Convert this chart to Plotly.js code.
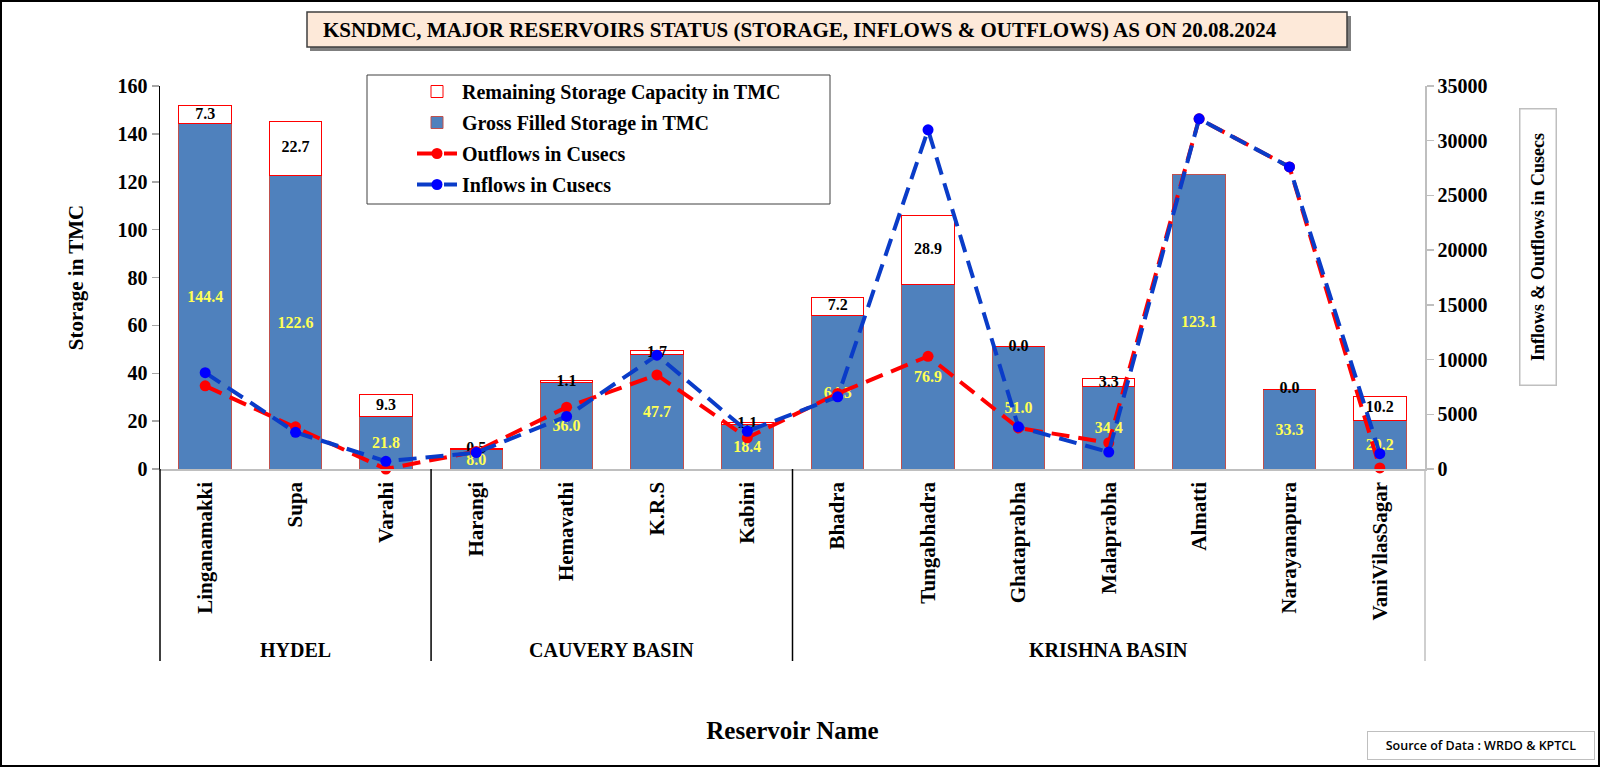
<!DOCTYPE html>
<html>
<head>
<meta charset="utf-8">
<script src="https://cdn.plot.ly/plotly-3.0.1.min.js"></script>
<style>
  html, body { margin: 0; padding: 0; background: #ffffff; }
  #chart { width: 1600px; height: 767px; }
</style>
</head>
<body>
<div id="chart"></div>
<script>
// ---------------- DATA ----------------
const reservoirs = ['Linganamakki', 'Supa', 'Varahi', 'Harangi', 'Hemavathi', 'K.R.S', 'Kabini',
  'Bhadra', 'Tungabhadra', 'Ghataprabha', 'Malaprabha', 'Almatti', 'Narayanapura', 'VaniVilasSagar'];
const grossFilled = [144.4, 122.6, 21.8, 8.0, 36.0, 47.7, 18.4, 64.3, 76.9, 51.0, 34.4, 123.1, 33.3, 20.2];
const remainingCapacity = [7.3, 22.7, 9.3, 0.5, 1.1, 1.7, 1.1, 7.2, 28.9, 0.0, 3.3, null, 0.0, 10.2];
const outflows = [7600, 3850, 0, 1600, 5650, 8600, 2850, 6900, 10300, 3750, 2400, 32000, 27600, 100];
const inflows = [8800, 3350, 700, 1500, 4800, 10400, 3450, 6600, 31000, 3850, 1550, 32000, 27600, 1400];
const basinNames = ['HYDEL', 'CAUVERY BASIN', 'KRISHNA BASIN'];
const basinSizes = [3, 4, 7];

const titleText = 'KSNDMC, MAJOR RESERVOIRS STATUS (STORAGE, INFLOWS &amp; OUTFLOWS) AS ON 20.08.2024';
const sourceText = 'Source of Data : WRDO &amp; KPTCL';

// ---------------- LAYOUT HELPERS ----------------
const FIG_W = 1600, FIG_H = 767;
const M = { l: 160, r: 175, t: 86, b: 298 };
const PW = FIG_W - M.l - M.r, PH = FIG_H - M.t - M.b;
const px2x = px => (px - M.l) / PW;
const px2y = py => (FIG_H - M.b - py) / PH;

const SERIF = '"Liberation Serif", "Times New Roman", serif';
const boldSerif = (size, color) => ({ family: SERIF, size: size, weight: 'bold', color: color || '#000000' });
const DASH = '18px,9px';

// label positions for the remaining-capacity values: centre of each remaining segment
const remainingLabelY = remainingCapacity.map((v, i) => (v === null ? null : grossFilled[i] + v / 2));
const remainingLabelText = remainingCapacity.map(v => (v === null ? '' : v.toFixed(1)));

// ---------------- TRACES ----------------
const traces = [
  {
    type: 'bar', name: 'Gross Filled Storage in TMC',
    x: reservoirs, y: grossFilled,
    marker: { color: '#4F81BD', line: { color: '#C0504D', width: 1 } },
    texttemplate: '%{y:.1f}', textposition: 'inside', insidetextanchor: 'middle',
    textfont: boldSerif(16, '#FFFF55'), legendrank: 2, legendgroup: 'g2', yaxis: 'y'
  },
  {
    type: 'bar', name: 'Remaining Storage Capacity in TMC',
    x: reservoirs, y: remainingCapacity,
    marker: { color: '#FFFFFF', line: { color: '#FF0000', width: 1 } },
    textposition: 'none', legendrank: 1, legendgroup: 'g1', yaxis: 'y'
  },
  {
    type: 'scatter', mode: 'text', name: 'Remaining labels', showlegend: false,
    x: reservoirs, y: remainingLabelY, text: remainingLabelText, textposition: 'middle center',
    textfont: boldSerif(16, '#000000'), cliponaxis: false, yaxis: 'y', hoverinfo: 'skip'
  },
  {
    type: 'scatter', mode: 'lines+markers', name: 'Outflows in Cusecs',
    x: reservoirs, y: outflows, yaxis: 'y2', cliponaxis: false,
    line: { color: '#FF0000', width: 4, dash: DASH },
    marker: { color: '#FF0000', size: 11 }, legendrank: 3, legendgroup: 'g3'
  },
  {
    type: 'scatter', mode: 'lines+markers', name: 'Inflows in Cusecs',
    x: reservoirs, y: inflows, yaxis: 'y2', cliponaxis: false,
    line: { color: '#0A3CC8', width: 4, dash: DASH },
    marker: { color: '#0000FF', size: 11 }, legendrank: 4, legendgroup: 'g4'
  }
];

// ---------------- SHAPES / ANNOTATIONS ----------------
const N = reservoirs.length;
const shapes = [];
const annotations = [];

// outer frame
shapes.push({ type: 'rect', xref: 'paper', yref: 'paper', x0: px2x(1), x1: px2x(1599), y0: px2y(766), y1: px2y(1),
  line: { color: '#000000', width: 2 }, fillcolor: 'rgba(0,0,0,0)', layer: 'above' });
// title shadow + box
shapes.push({ type: 'rect', xref: 'paper', yref: 'paper', x0: px2x(310), x1: px2x(1351), y0: px2y(51), y1: px2y(16),
  line: { width: 0 }, fillcolor: '#7F7F7F', layer: 'above' });
shapes.push({ type: 'rect', xref: 'paper', yref: 'paper', x0: px2x(307), x1: px2x(1347), y0: px2y(47), y1: px2y(12),
  line: { color: '#3F3F3F', width: 1.5 }, fillcolor: '#FDE9D9', layer: 'above' });
// legend box
shapes.push({ type: 'rect', xref: 'paper', yref: 'paper', x0: px2x(367), x1: px2x(830), y0: px2y(204), y1: px2y(75),
  line: { color: '#404040', width: 1 }, fillcolor: '#FFFFFF', layer: 'above' });

// basin separators and labels
const lineBottom = px2y(661);
shapes.push({ type: 'line', xref: 'paper', yref: 'paper', x0: 0, x1: 0, y0: lineBottom, y1: 0, line: { color: '#000000', width: 1.5 } });
shapes.push({ type: 'line', xref: 'paper', yref: 'paper', x0: 1, x1: 1, y0: lineBottom, y1: 0, line: { color: '#BFBFBF', width: 1.5 } });
let start = 0;
basinNames.forEach((name, k) => {
  const size = basinSizes[k];
  annotations.push({ xref: 'paper', yref: 'paper', x: (start + size / 2) / N, y: px2y(650),
    text: name, showarrow: false, xanchor: 'center', yanchor: 'middle', font: boldSerif(20) });
  start += size;
  if (start < N) {
    shapes.push({ type: 'line', xref: 'paper', yref: 'paper', x0: start / N, x1: start / N, y0: lineBottom, y1: 0,
      line: { color: '#000000', width: 1.5 } });
  }
});

// title text
annotations.push({ xref: 'paper', yref: 'paper', x: px2x(800), y: px2y(29.5), xanchor: 'center', yanchor: 'middle',
  text: titleText, showarrow: false, font: boldSerif(21) });
// right axis title in box
annotations.push({ xref: 'paper', yref: 'paper', x: px2x(1537.5), y: px2y(247.5), xanchor: 'center', yanchor: 'middle',
  text: 'Inflows &amp; Outflows in Cusecs', textangle: -90, showarrow: false, font: boldSerif(18),
  bordercolor: '#BFBFBF', borderwidth: 1.5, bgcolor: '#FFFFFF', width: 273, height: 33 });
// source
annotations.push({ xref: 'paper', yref: 'paper', x: px2x(1481), y: px2y(745.5), xanchor: 'center', yanchor: 'middle',
  text: sourceText, showarrow: false, font: { family: '"Open Sans", "Liberation Sans", sans-serif', size: 12.5, weight: 600, color: '#000000' },
  bordercolor: '#BFBFBF', borderwidth: 1, bgcolor: '#FFFFFF', width: 224, height: 25 });

const layout = {
  width: FIG_W, height: FIG_H,
  margin: M,
  paper_bgcolor: '#FFFFFF', plot_bgcolor: '#FFFFFF',
  barmode: 'stack', bargap: 0.42,
  uniformtext: { mode: 'show', minsize: 16 },
  showlegend: true,
  legend: {
    x: px2x(412), xanchor: 'left', y: px2y(72), yanchor: 'top',
    bgcolor: 'rgba(0,0,0,0)', borderwidth: 0,
    font: boldSerif(20), traceorder: 'grouped', tracegroupgap: 2, itemwidth: 40
  },
  xaxis: {
    type: 'category', range: [-0.5, N - 0.5],
    tickangle: -90, tickfont: boldSerif(21), ticks: '', ticklabelstandoff: 3,
    showline: true, linecolor: '#BFBFBF', linewidth: 1.5, showgrid: false, zeroline: false,
    title: { text: 'Reservoir Name', font: boldSerif(25), standoff: 102 },
    automargin: false
  },
  yaxis: {
    range: [0, 160], dtick: 20, tick0: 0,
    ticks: 'outside', ticklen: 7, tickcolor: '#A6A6A6', tickwidth: 1.5,
    showline: true, linecolor: '#000000', linewidth: 1.5, showgrid: false, zeroline: false,
    tickfont: boldSerif(20),
    title: { text: 'Storage in TMC', font: boldSerif(21), standoff: 28 },
    automargin: false
  },
  yaxis2: {
    overlaying: 'y', side: 'right', range: [0, 35000], dtick: 5000, tick0: 0, tickformat: 'd',
    ticks: 'outside', ticklen: 7, tickcolor: '#BFBFBF', tickwidth: 1.5,
    showline: true, linecolor: '#BFBFBF', linewidth: 1.5, showgrid: false, zeroline: false,
    tickfont: boldSerif(20), automargin: false
  },
  shapes: shapes,
  annotations: annotations
};

Plotly.newPlot('chart', traces, layout, { displayModeBar: false, staticPlot: true });
</script>
</body>
</html>
